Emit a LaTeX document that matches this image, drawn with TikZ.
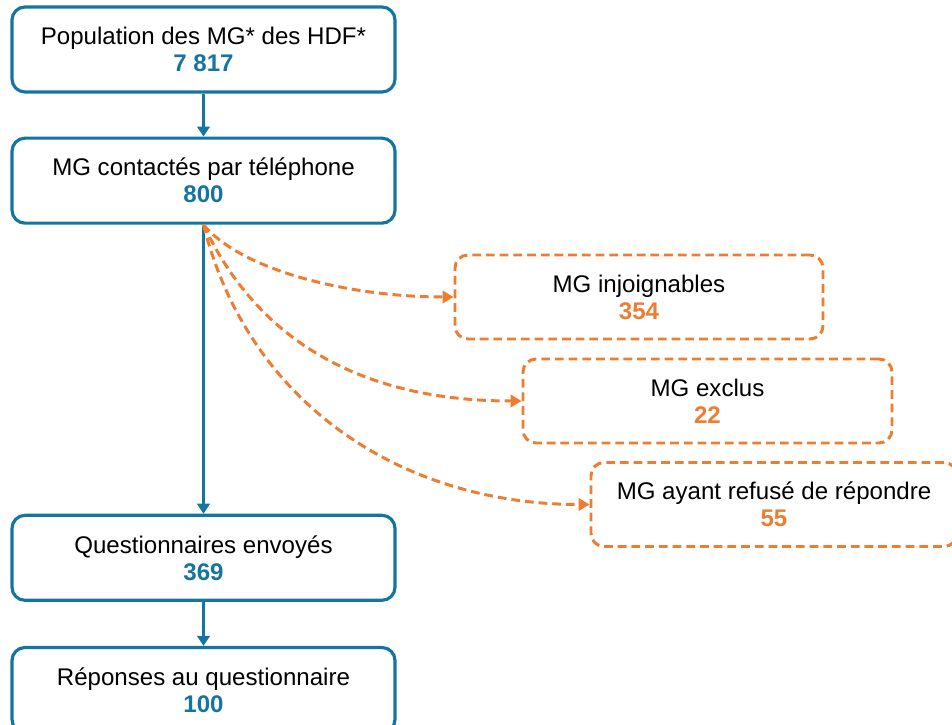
\documentclass[tikz,border=0pt]{standalone}
\usepackage{fontspec}
\setmainfont{Liberation Sans}
\usetikzlibrary{arrows.meta, positioning}
\definecolor{mgblue}{RGB}{19,117,160}
\definecolor{mgorange}{RGB}{237,125,49}

\begin{document}
\begin{tikzpicture}[node distance=0.86cm, font=\fontsize{13.7}{15.4}\selectfont]
    % Styles for boxes and arrows
    \tikzstyle{box} = [rectangle, rounded corners=0.26cm, draw=mgblue, line width=1.8pt, minimum width=7.66cm, minimum height=1.7cm, align=center, inner sep=0pt]
    \tikzstyle{lost} = [rectangle, rounded corners=0.26cm, draw=mgorange, line width=1.7pt, dash pattern=on 5pt off 2.8pt, minimum width=7.36cm, minimum height=1.68cm, align=center, inner sep=0pt]
    \tikzstyle{arrow} = [mgblue, line width=1.8pt, -{Triangle[length=0.2cm, width=0.25cm]}]
    \tikzstyle{dashed arrow} = [mgorange, line width=1.7pt, dash pattern=on 5pt off 2.8pt, -{Triangle[length=0.22cm, width=0.25cm]}]

    \clip (0,0) rectangle (19.04,-14.5);

    % Nodes
    \node[box] (pop) at (4.07,-0.99) {Population des MG* des HDF*\\\textcolor{mgblue}{\bfseries 7 817}};
    \node[box, below=of pop] (contact) {MG contactés par téléphone\\\textcolor{mgblue}{\bfseries 800}};
    \node[box, below=5.78cm of contact] (envoi) {Questionnaires envoyés\\\textcolor{mgblue}{\bfseries 369}};
    \node[box, below=0.88cm of envoi] (reponse) {Réponses au questionnaire\\\textcolor{mgblue}{\bfseries 100}};

    % Excluded doctors
    \node[lost] (injoign) at (12.78,-5.94) {MG injoignables\\\textcolor{mgorange}{\bfseries 354}};
    \node[lost, minimum width=7.38cm] (exclus) at (14.15,-8.02) {MG exclus\\\textcolor{mgorange}{\bfseries 22}};
    \node[lost, minimum width=7.32cm] (refus) at (15.48,-10.09) {MG ayant refusé de répondre\\\textcolor{mgorange}{\bfseries 55}};

    % Arrows
    \draw[arrow] (pop) -- (contact);
    \draw[arrow] (contact) -- (envoi);
    \draw[arrow] (envoi) -- (reponse);
    \draw[dashed arrow] (contact.south) to[out=-50, in=180, out looseness=0.6] (injoign.west);
    \draw[dashed arrow] (contact.south) to[out=-65, in=180] (exclus.west);
    \draw[dashed arrow] (contact.south) to[out=-76, in=180] (refus.west);
\end{tikzpicture}
\end{document}
